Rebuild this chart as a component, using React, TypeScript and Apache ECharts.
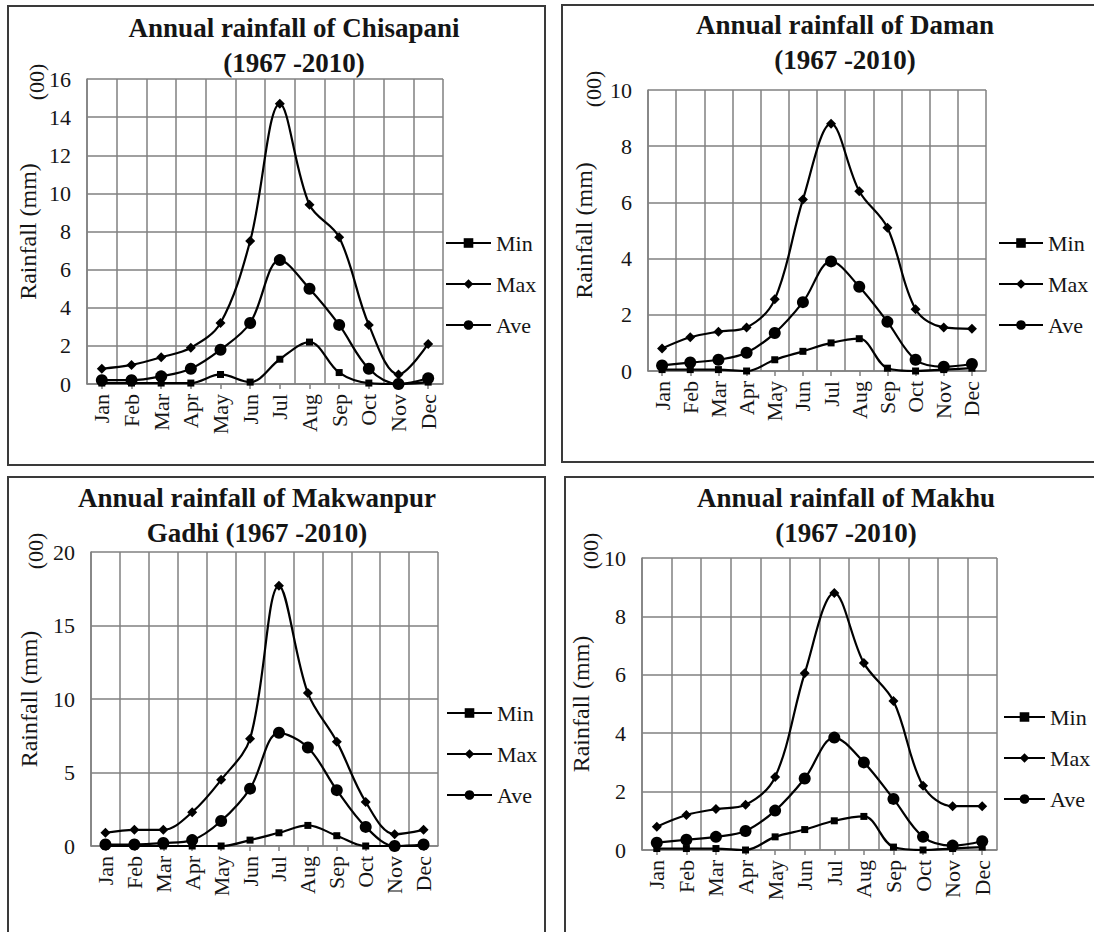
import React, { useEffect, useRef } from "react";
import * as echarts from "echarts";

const months = ["Jan", "Feb", "Mar", "Apr", "May", "Jun", "Jul", "Aug", "Sep", "Oct", "Nov", "Dec"];
const seriesNames = ["Min", "Max", "Ave"];

// Chisapani (00 mm)
const chisapaniMin = [0.05, 0.05, 0.05, 0.05, 0.5, 0.1, 1.3, 2.2, 0.6, 0.05, 0.0, 0.1];
const chisapaniMax = [0.8, 1.0, 1.4, 1.9, 3.2, 7.5, 14.7, 9.4, 7.7, 3.1, 0.5, 2.1];
const chisapaniAve = [0.2, 0.2, 0.4, 0.8, 1.8, 3.2, 6.5, 5.0, 3.1, 0.8, 0.0, 0.3];

// Daman
const damanMin = [0.05, 0.05, 0.05, 0.0, 0.4, 0.7, 1.0, 1.15, 0.1, 0.0, 0.05, 0.1];
const damanMax = [0.8, 1.2, 1.4, 1.55, 2.55, 6.1, 8.8, 6.4, 5.1, 2.2, 1.55, 1.5];
const damanAve = [0.2, 0.3, 0.4, 0.65, 1.35, 2.45, 3.9, 3.0, 1.75, 0.4, 0.15, 0.25];

// Makwanpur Gadhi
const makwanpurMin = [0.0, 0.0, 0.0, 0.0, 0.0, 0.4, 0.9, 1.4, 0.7, 0.0, 0.0, 0.0];
const makwanpurMax = [0.9, 1.1, 1.1, 2.3, 4.5, 7.3, 17.7, 10.4, 7.1, 3.0, 0.8, 1.1];
const makwanpurAve = [0.1, 0.1, 0.2, 0.4, 1.7, 3.9, 7.7, 6.7, 3.8, 1.3, 0.0, 0.1];

// Makhu
const makhuMin = [0.05, 0.05, 0.05, 0.0, 0.45, 0.7, 1.0, 1.15, 0.1, 0.0, 0.05, 0.1];
const makhuMax = [0.8, 1.2, 1.4, 1.55, 2.5, 6.05, 8.8, 6.4, 5.1, 2.2, 1.5, 1.5];
const makhuAve = [0.25, 0.35, 0.45, 0.65, 1.35, 2.45, 3.85, 3.0, 1.75, 0.45, 0.15, 0.3];

const titles = [
  "Annual rainfall of Chisapani\n(1967 -2010)",
  "Annual rainfall of Daman\n(1967 -2010)",
  "Annual rainfall of Makwanpur\nGadhi (1967 -2010)",
  "Annual rainfall of Makhu\n(1967 -2010)",
];
const yMax = [16, 10, 20, 10];
const yInterval = [2, 2, 5, 2];
const yAxisName = "Rainfall (mm)";
const unitLabel = "(00)";

const panels = [
  { min: chisapaniMin, max: chisapaniMax, ave: chisapaniAve },
  { min: damanMin, max: damanMax, ave: damanAve },
  { min: makwanpurMin, max: makwanpurMax, ave: makwanpurAve },
  { min: makhuMin, max: makhuMax, ave: makhuAve },
];

// layout
const grids = [
  { left: 87, top: 79, width: 356, height: 305 },
  { left: 648, top: 90, width: 338, height: 281 },
  { left: 91, top: 552, width: 347, height: 294 },
  { left: 642, top: 558, width: 355, height: 292 },
];
const nameGaps = [47, 52, 50, 49];
const legendPos = [
  { left: 445, top: 231, itemWidth: 45 },
  { left: 998, top: 231, itemWidth: 44 },
  { left: 446, top: 701, itemWidth: 45 },
  { left: 1003, top: 705, itemWidth: 41 },
];
const titlePos = [
  { x: 294, y: 10 },
  { x: 845, y: 7 },
  { x: 257, y: 480 },
  { x: 846, y: 480 },
];
const unitPos = [
  { x: 36, y: 82 },
  { x: 593, y: 89 },
  { x: 35, y: 551 },
  { x: 590, y: 551 },
];
const borders = [
  { x: 8, y: 6, width: 537, height: 459 },
  { x: 562, y: 5, width: 545, height: 457 },
  { x: 8, y: 477, width: 537, height: 470 },
  { x: 565, y: 477, width: 545, height: 470 },
];

const SERIF = '"Liberation Serif", "DejaVu Serif", serif';
const GRID_COLOR = "#808080";
const INK = "#151515";

export default function App() {
  const ref = useRef<HTMLDivElement>(null);

  useEffect(() => {
    if (!ref.current) return;
    const chart = echarts.init(ref.current, null, { renderer: "svg" });

    const symbols = ["rect", "diamond", "circle"];
    const sizes = [7, 10, 12];

    const xAxis = grids.map((_, i) => ({
      type: "category",
      gridIndex: i,
      data: months,
      boundaryGap: true,
      axisLine: { show: true, lineStyle: { color: GRID_COLOR, width: 1.5 } },
      axisTick: { show: true, alignWithLabel: true, length: 5, lineStyle: { color: GRID_COLOR, width: 1.5 } },
      splitLine: { show: true, lineStyle: { color: GRID_COLOR, width: 1.5 } },
      axisLabel: {
        rotate: 90,
        interval: 0,
        margin: 10,
        fontFamily: SERIF,
        fontSize: 22,
        color: INK,
      },
    }));

    const yAxis = grids.map((_, i) => ({
      type: "value",
      gridIndex: i,
      min: 0,
      max: yMax[i],
      interval: yInterval[i],
      name: yAxisName,
      nameLocation: "middle",
      nameGap: nameGaps[i],
      nameRotate: 90,
      nameTextStyle: { fontFamily: SERIF, fontSize: 24, color: INK },
      axisLine: { show: true, lineStyle: { color: GRID_COLOR, width: 1.5 } },
      axisTick: { show: false },
      splitLine: { show: true, lineStyle: { color: GRID_COLOR, width: 1.5 } },
      axisLabel: { fontFamily: SERIF, fontSize: 22, color: INK, margin: 16 },
    }));

    const series: any[] = [];
    panels.forEach((p, i) => {
      [p.min, p.max, p.ave].forEach((data, k) => {
        series.push({
          type: "line",
          name: seriesNames[k],
          xAxisIndex: i,
          yAxisIndex: i,
          data,
          smooth: 0.35,
          symbol: symbols[k],
          symbolSize: sizes[k],
          showSymbol: true,
          lineStyle: { color: "#000", width: 2.2 },
          itemStyle: { color: "#000" },
          z: 3 + k,
        });
      });
    });

    const legend = legendPos.map((pos) => ({
      data: seriesNames,
      orient: "vertical",
      left: pos.left,
      top: pos.top,
      padding: 0,
      itemWidth: pos.itemWidth,
      itemHeight: 12,
      itemGap: 17,
      selectedMode: false,
      textStyle: { fontFamily: SERIF, fontSize: 22, color: INK, lineHeight: 24 },
    }));

    const graphic: any[] = [];
    borders.forEach((b) => {
      graphic.push({
        type: "rect",
        shape: { x: b.x, y: b.y, width: b.width, height: b.height },
        style: { fill: "none", stroke: "#3a3a3a", lineWidth: 2 },
        silent: true,
      });
    });
    titles.forEach((t, i) => {
      graphic.push({
        type: "text",
        x: titlePos[i].x,
        y: titlePos[i].y,
        style: {
          text: t,
          textAlign: "center",
          textVerticalAlign: "top",
          font: `bold 27px ${SERIF}`,
          fill: INK,
          lineHeight: 35,
        },
      });
    });
    unitPos.forEach((u) => {
      graphic.push({
        type: "text",
        x: u.x,
        y: u.y,
        rotation: Math.PI / 2,
        style: {
          text: unitLabel,
          textAlign: "center",
          textVerticalAlign: "middle",
          font: `22px ${SERIF}`,
          fill: INK,
        },
      });
    });

    chart.setOption({
      animation: false,
      backgroundColor: "#fff",
      grid: grids.map((g) => ({ ...g })),
      xAxis,
      yAxis,
      legend,
      series,
      graphic,
    });

    return () => chart.dispose();
  }, []);

  return (
    <div
      ref={ref}
      style={{ position: "absolute", left: 0, top: 0, width: 1094, height: 932, background: "#fff" }}
    />
  );
}
